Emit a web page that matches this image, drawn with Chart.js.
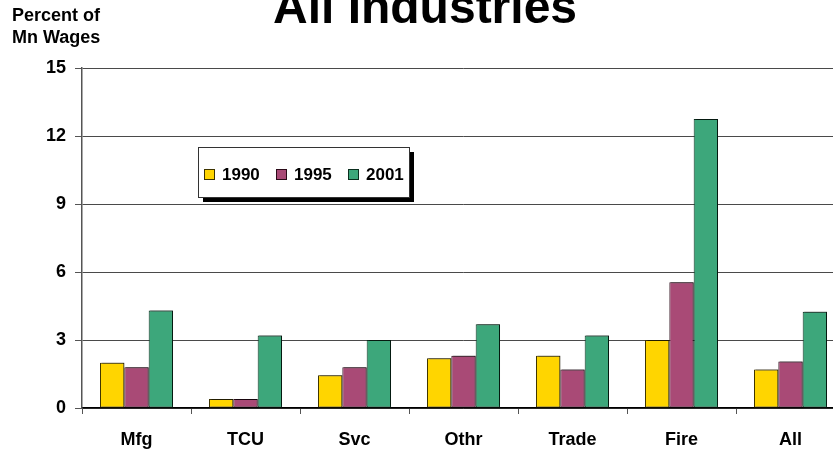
<!DOCTYPE html>
<html>
<head>
<meta charset="utf-8">
<script src="https://cdn.jsdelivr.net/npm/chart.js@4"></script>
<style>
    html, body { margin: 0; padding: 0; background: #fff; overflow: hidden; }
    #wrap { width: 847px; height: 451px; }
</style>
</head>
<body>
<div id="wrap"><canvas id="wageChart" width="847" height="451"></canvas></div>
<script>
const industries = ['Mfg', 'TCU', 'Svc', 'Othr', 'Trade', 'Fire', 'All'];
const years = ['1990', '1995', '2001'];
const share1990 = [2.0, 0.4, 1.45, 2.2, 2.3, 3.0, 1.7];
const share1995 = [1.8, 0.4, 1.8, 2.3, 1.7, 5.55, 2.05];
const share2001 = [4.3, 3.2, 3.0, 3.7, 3.2, 12.75, 4.25];
const yTicks = [0, 3, 6, 9, 12, 15];

const fills = ['#FFD500', '#A94A76', '#3DA77B'];
const edges = ['#3d3300', '#2a0a18', '#0a2e1e'];
const FONT = '"Liberation Sans", Arial, sans-serif';

// title, axis caption and the boxed legend are painted by hand
const decorations = {
    id: 'decorations',
    afterDraw(chart) {
        const c = chart.ctx;
        const area = chart.chartArea;
        c.save();
        c.fillStyle = '#000';
        c.textAlign = 'center';
        c.textBaseline = 'alphabetic';
        c.font = 'bold 48px ' + FONT;
        c.fillText('All Industries', 425, 23);

        c.textAlign = 'left';
        c.font = 'bold 18px ' + FONT;
        c.fillText('Percent of', 12, 21);
        c.fillText('Mn Wages', 12, 43);

        // legend box with drop shadow
        const bx = area.left + 116, by = area.top + 79, bw = 211, bh = 50;
        c.fillStyle = '#000';
        c.fillRect(bx + 5, by + 5, bw, bh);
        c.fillStyle = '#fff';
        c.fillRect(bx, by, bw, bh);
        c.strokeStyle = '#333';
        c.lineWidth = 1;
        c.strokeRect(bx + 0.5, by + 0.5, bw, bh);

        c.font = 'bold 17px ' + FONT;
        c.textBaseline = 'middle';
        const cy = by + 27;
        chart.data.datasets.forEach((ds, i) => {
            const x = bx + 6 + i * 72;
            c.fillStyle = ds.backgroundColor;
            c.fillRect(x, cy - 5, 11, 11);
            c.strokeStyle = ds.borderColor;
            c.strokeRect(x + 0.5, cy - 4.5, 10, 10);
            c.fillStyle = '#000';
            c.fillText(ds.label, x + 18, cy + 1);
        });
        c.restore();
    }
};

// faint offset shadow behind the bars
const barShadow = {
    id: 'barShadow',
    beforeDatasetsDraw(chart) {
        const c = chart.ctx;
        c.save();
        c.shadowColor = 'rgba(0,0,0,0.45)';
        c.shadowOffsetX = 1.5;
        c.shadowOffsetY = -1;
        c.shadowBlur = 0;
    },
    afterDatasetsDraw(chart) {
        chart.ctx.restore();
    }
};

const seriesValues = [share1990, share1995, share2001];

new Chart(document.getElementById('wageChart').getContext('2d'), {
    type: 'bar',
    data: {
        labels: industries,
        datasets: years.map((y, i) => ({
            label: y,
            data: seriesValues[i],
            backgroundColor: fills[i],
            borderColor: edges[i],
            borderWidth: 1,
            borderSkipped: false,
            barPercentage: 1.0,
            categoryPercentage: 0.67
        }))
    },
    options: {
        responsive: false,
        animation: false,
        layout: { padding: { top: 68, left: 0, right: 2, bottom: 0 } },
        scales: {
            x: {
                offset: true,
                grid: {
                    offset: true,
                    drawOnChartArea: false,
                    drawTicks: true,
                    tickLength: 6,
                    tickColor: '#555'
                },
                border: { display: true, color: '#000', width: 1.5 },
                ticks: {
                    color: '#000',
                    padding: 15,
                    font: { family: FONT, size: 18, weight: 'bold' }
                },
                afterFit(scale) { scale.height = 43; }
            },
            y: {
                min: 0,
                max: 15,
                afterBuildTicks(scale) {
                    scale.ticks = yTicks.map(v => ({ value: v }));
                },
                grid: {
                    color: '#4a4a4a',
                    lineWidth: 1,
                    tickLength: 7,
                    tickColor: '#555'
                },
                border: { display: true, color: '#555', width: 1.5 },
                ticks: {
                    color: '#000',
                    padding: 9,
                    font: { family: FONT, size: 18, weight: 'bold' }
                },
                afterFit(scale) { scale.width = 82; }
            }
        },
        plugins: {
            legend: { display: false },
            title: { display: false },
            tooltip: { enabled: false }
        }
    },
    plugins: [barShadow, decorations]
});
</script>
</body>
</html>
